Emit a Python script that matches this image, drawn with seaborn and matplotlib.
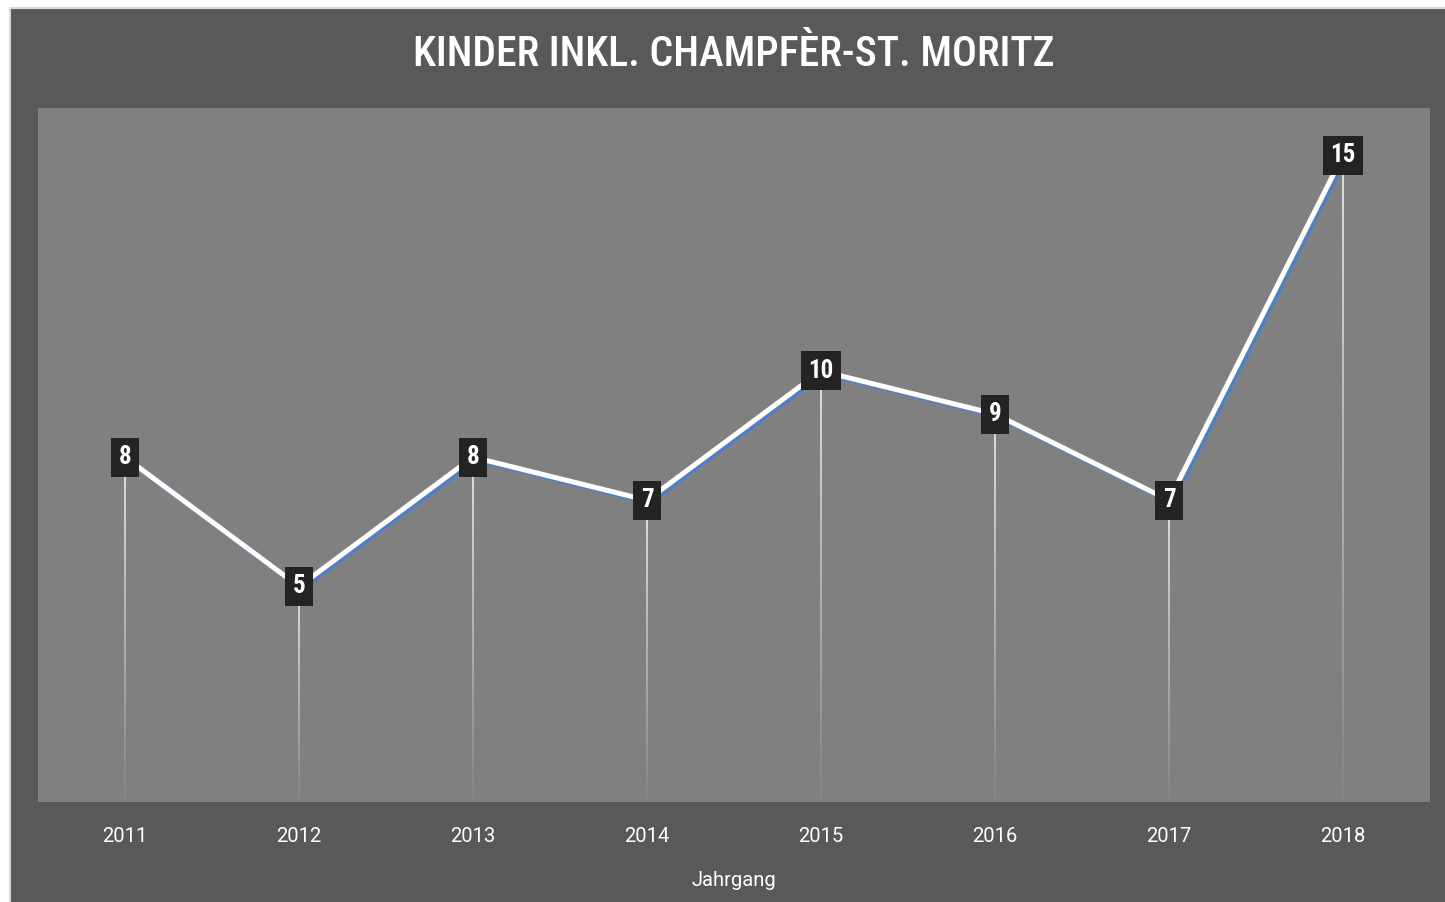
import matplotlib
matplotlib.use("Agg")
import matplotlib.pyplot as plt
import matplotlib.patheffects as pe
from matplotlib.patches import Rectangle
import seaborn as sns
import pandas as pd
import numpy as np

# data
years = ["2011", "2012", "2013", "2014", "2015", "2016", "2017", "2018"]
kinder = [8, 5, 8, 7, 10, 9, 7, 15]

title = "KINDER INKL. CHAMPFÈR-ST. MORITZ"
xlabel = "Jahrgang"

df = pd.DataFrame({"Jahrgang": years, "Kinder": kinder})

sns.set_style("white")
plt.rcParams['font.family'] = ['Roboto', 'DejaVu Sans']
cond = ['Roboto Condensed', 'Liberation Sans Narrow', 'DejaVu Sans']

fig = plt.figure(figsize=(14.45, 9.02), dpi=100, facecolor="white")
# dark frame
fig.patches.append(Rectangle((10 / 1445, -0.01), 1.0, 1.01 - 8 / 902,
                             transform=fig.transFigure, facecolor="#595959",
                             edgecolor="#d9d9d9", lw=1.5, zorder=-1))

ax = fig.add_axes([38 / 1445, 100 / 902, 1392 / 1445, 694 / 902])
ax.set_facecolor("#808080")

x = np.arange(len(years))

# fading drop lines
n = 40
for xi, v in zip(x, kinder):
    edges = np.linspace(0, v, n + 1)
    for k in range(n):
        ax.vlines(xi, edges[k], edges[k + 1], color="white",
                  alpha=0.05 + 0.85 * (k / n), lw=1.2, zorder=2)

sns.lineplot(data=df, x="Jahrgang", y="Kinder", ax=ax, color="white", lw=3.6,
             sort=False, zorder=3,
             path_effects=[pe.SimpleLineShadow(offset=(1.8, -1.5), shadow_color="#4a80c8", alpha=1),
                           pe.Normal()])

for xi, v in zip(x, kinder):
    ax.text(xi, v, str(v), ha="center", va="center", color="white",
            fontsize=18, fontweight="bold", family=cond, zorder=5,
            bbox=dict(boxstyle="square,pad=0.3", facecolor="#232323", edgecolor="none"))

ax.set_xlim(-0.5, len(years) - 0.5)
ax.set_ylim(0, 16.1)
ax.set_yticks([])
ax.set_xticks(x)
ax.set_xticklabels(years)
ax.tick_params(axis="x", length=0, pad=18, labelsize=14.5, labelcolor="white")
ax.set_xlabel(xlabel, color="white", fontsize=14.5, labelpad=18)
ax.set_ylabel("")
for s in ax.spines.values():
    s.set_visible(False)

fig.text(734 / 1445, 1 - 55 / 902, title, ha="center", va="center", color="white",
         fontsize=30, fontweight="medium", family=cond)

fig.savefig("out.png", dpi=100, facecolor=fig.get_facecolor())
